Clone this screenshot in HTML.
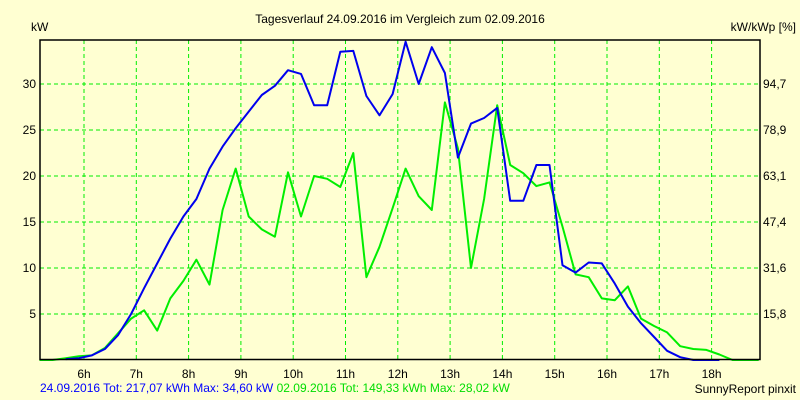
<!DOCTYPE html>
<html><head><meta charset="utf-8"><style>
html,body{margin:0;padding:0;background:#FFFFD2;}
svg{display:block;font-family:"Liberation Sans",sans-serif;font-size:12px;}
</style></head><body>
<svg id="chart" width="800" height="400" viewBox="0 0 800 400">
<rect x="0" y="0" width="800" height="400" fill="#FFFFD2"/>
<text x="400" y="23" text-anchor="middle" fill="#000">Tagesverlauf 24.09.2016 im Vergleich zum 02.09.2016</text>
<text x="31" y="31" fill="#000">kW</text>
<text x="796" y="31" text-anchor="end" fill="#000">kW/kWp [%]</text>
<g id="grid"></g>
<g id="series"></g>
<rect x="40" y="40" width="720" height="319.5" fill="none" stroke="#000" stroke-width="1.5"/>
<g id="labels"></g>
<text x="40" y="392" fill="#0000FF">24.09.2016 Tot: 217,07 kWh Max: 34,60 kW <tspan fill="#00DD00">02.09.2016 Tot: 149,33 kWh Max: 28,02 kW</tspan></text>
<text x="796" y="393" text-anchor="end" fill="#000">SunnyReport pinxit</text>
</svg>
<script>
const hourTicks = [6,7,8,9,10,11,12,13,14,15,16,17,18];
const leftTicks = [5,10,15,20,25,30];
const rightTickLabels = ["15,8","31,6","47,4","63,1","78,9","94,7"];
const startTime = 5.15;
const stepHours = 0.25;
const blueValues = [null,null,0.1,0.2,0.5,1.2,2.7,5.0,7.8,10.5,13.2,15.6,17.5,20.8,23.2,25.2,27.0,28.8,29.8,31.5,31.1,27.7,27.7,33.5,33.6,28.7,26.6,28.9,34.6,30.0,34.0,31.2,22.0,25.7,26.3,27.4,17.3,17.3,21.2,21.2,10.3,9.5,10.6,10.5,8.3,5.8,4.0,2.5,1.0,0.3,0,0,0];
const greenValues = [0,0,0.2,0.4,0.5,1.3,2.9,4.5,5.4,3.2,6.7,8.6,10.9,8.2,16.3,20.8,15.6,14.2,13.4,20.4,15.6,20.0,19.7,18.8,22.5,9.0,12.3,16.5,20.8,17.8,16.3,28.0,23.0,10.0,17.5,27.7,21.2,20.3,18.9,19.3,14.5,9.3,9.0,6.7,6.5,8.0,4.5,3.7,3.0,1.5,1.2,1.1,0.6,0,0,0];

const NS="http://www.w3.org/2000/svg";
const xs = t => 84 + (t-6)*52.3;
const ys = v => 360 - v*9.2;
const grid=document.getElementById('grid'), labels=document.getElementById('labels'), series=document.getElementById('series');
function mk(tag, attrs){const e=document.createElementNS(NS,tag);for(const k in attrs)e.setAttribute(k,attrs[k]);return e;}
hourTicks.forEach(h=>{
  const x=xs(h);
  const l=mk('line',{x1:x,y1:40,x2:x,y2:359,stroke:'#00EE00','stroke-dasharray':'4,3'});
  
  
  grid.appendChild(l);
  const t=mk('text',{x:x,y:378,'text-anchor':'middle',fill:'#000'});
  
  
  t.textContent=h+'h';labels.appendChild(t);
});
leftTicks.forEach((v,i)=>{
  const y=ys(v);
  const l=mk('line',{x1:40,y1:y,x2:760,y2:y,stroke:'#00EE00','stroke-dasharray':'4,3'});
  
  
  grid.appendChild(l);
  const t=mk('text',{x:36,y:y+4,'text-anchor':'end',fill:'#000'});
  
  
  t.textContent=v;labels.appendChild(t);
  const r=mk('text',{x:763,y:y+4,fill:'#000'});
  
  
  r.textContent=rightTickLabels[i];labels.appendChild(r);
});
function line(vals,color,name){
  const pts=[];
  vals.forEach((v,i)=>{if(v!==null)pts.push(xs(startTime+i*stepHours).toFixed(1)+','+ys(v).toFixed(1));});
  const p=mk('polyline',{points:pts.join(' '),fill:'none',stroke:color,'stroke-width':2,'stroke-linejoin':'round'});
  
  
  series.appendChild(p);
}
line(greenValues,'#00EE00','series-02-09-2016');
line(blueValues,'#0000EE','series-24-09-2016');
</script>
</body></html>
